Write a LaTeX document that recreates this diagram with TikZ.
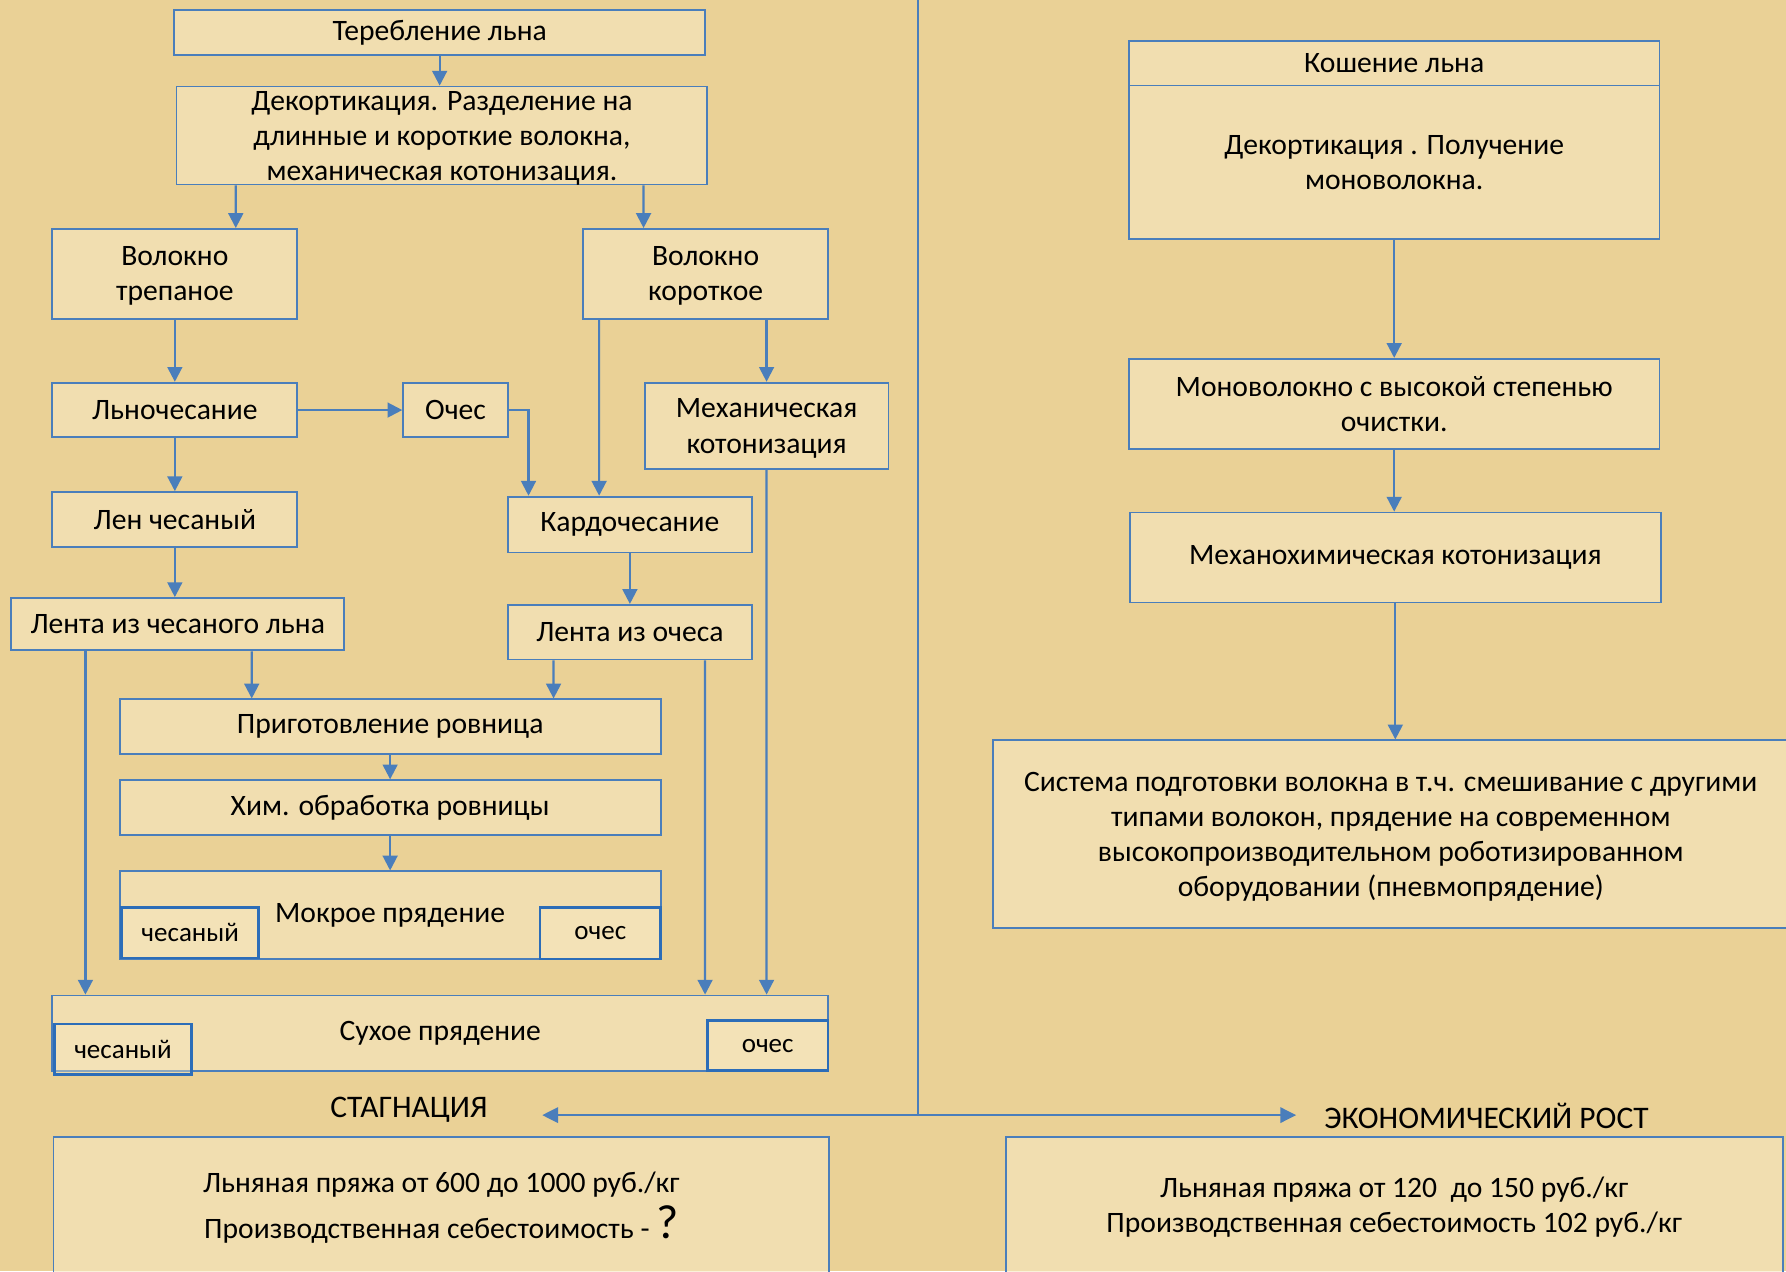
\documentclass[tikz,border=0pt]{standalone}
\usepackage{fontspec}
\setmainfont{Carlito}
\usetikzlibrary{arrows.meta}
\definecolor{paper}{HTML}{EAD196}
\definecolor{paperlight}{HTML}{F6E8C2}
\definecolor{flowblue}{HTML}{4A7EBB}
\definecolor{subblue}{HTML}{2C6DB8}
\pgfdeclarelayer{paper}
\pgfdeclarelayer{bg}
\pgfsetlayers{paper,bg,main}
\tikzset{
  stage/.style={draw=flowblue, line width=0.9pt, fill=paperlight, fill opacity=0.6,
    text opacity=1, align=center, inner sep=0pt,
    font=\fontsize{14.8}{17.5}\selectfont},
  lowtext/.style={text depth=-1.5pt},
  subbox/.style={draw=subblue, line width=1.4pt, fill=paperlight, fill opacity=0.4,
    text opacity=1, inner sep=0pt, minimum width=2.40cm, minimum height=0.88cm,
    font=\fontsize{13.5}{16}\selectfont},
  outcome/.style={font=\fontsize{15.7}{18}\selectfont},
  flow/.style={draw=flowblue, line width=1.1pt, -{Triangle[length=0.26cm,width=0.26cm]}},
  duo/.style={draw=flowblue, line width=1.1pt,
    {Triangle[length=0.28cm,width=0.27cm]}-{Triangle[length=0.28cm,width=0.27cm]}}
}

\begin{document}
\begin{tikzpicture}
        \useasboundingbox (0cm, 0cm) rectangle (31.36cm, -22.32cm);
        \begin{pgfonlayer}{paper}
                \fill[paper] (0cm, 0cm) rectangle (31.36cm, -22.32cm);
        \end{pgfonlayer}
        % left column
        \node (l0) [stage, minimum width=9.32cm, minimum height=0.78cm] at (7.720000cm, -0.570000cm) {Теребление льна};
        \node (l1) [stage, lowtext, minimum width=9.32cm, minimum height=1.72cm] at (7.760000cm, -2.380000cm) {Декортикация. Разделение на\\длинные и короткие волокна,\\механическая котонизация.};
        \node (l2) [stage, lowtext, minimum width=4.30cm, minimum height=1.58cm] at (3.070000cm, -4.810000cm) {Волокно\\трепаное};
        \node (l3) [stage, lowtext, minimum width=4.30cm, minimum height=1.58cm] at (12.390000cm, -4.810000cm) {Волокно\\короткое};
        \node (l4) [stage, minimum width=4.30cm, minimum height=0.96cm] at (3.070000cm, -7.200000cm) {Льночесание};
        \node (l5) [stage, minimum width=1.84cm, minimum height=0.96cm] at (8.000000cm, -7.200000cm) {Очес};
        \node (l6) [stage, lowtext, minimum width=4.28cm, minimum height=1.52cm] at (13.460000cm, -7.480000cm) {Механическая\\котонизация};
        \node (l7) [stage, minimum width=4.30cm, minimum height=0.96cm] at (3.070000cm, -9.120000cm) {Лен чесаный};
        \node (l8) [stage, minimum width=4.28cm, minimum height=0.98cm] at (11.060000cm, -9.210000cm) {Кардочесание};
        \node (l9) [stage, minimum width=5.84cm, minimum height=0.92cm] at (3.120000cm, -10.960000cm) {Лента из чесаного льна};
        \node (l10) [stage, minimum width=4.28cm, minimum height=0.96cm] at (11.060000cm, -11.100000cm) {Лента из очеса};
        \node (l11) [stage, minimum width=9.50cm, minimum height=0.96cm] at (6.850000cm, -12.760000cm) {Приготовление ровница};
        \node (l12) [stage, minimum width=9.50cm, minimum height=0.96cm] at (6.850000cm, -14.180000cm) {Хим. обработка ровницы};
        \node (l13) [stage, minimum width=9.50cm, minimum height=1.54cm] at (6.850000cm, -16.070000cm) {Мокрое прядение};
        \node (m0) [subbox] at (3.340000cm, -16.380000cm) {чесаный};
        \node (m1) [subbox, minimum width=2.12cm, minimum height=0.90cm] at (10.540000cm, -16.390000cm) {\raisebox{-3pt}{очес}};
        \node (l14) [stage, minimum width=13.62cm, minimum height=1.32cm] at (7.730000cm, -18.140000cm) {Сухое прядение};
        \node (s0) [subbox] at (2.160000cm, -18.420000cm) {чесаный};
        \node (s1) [subbox, minimum width=2.12cm] at (13.480000cm, -18.360000cm) {очес};
        % right column
        \node (r0) [stage, minimum width=9.32cm, minimum height=0.78cm] at (24.480000cm, -1.110000cm) {Кошение льна};
        \node (r1) [stage, lowtext, minimum width=9.32cm, minimum height=2.70cm] at (24.480000cm, -2.850000cm) {Декортикация . Получение\\моноволокна.};
        \node (r2) [stage, lowtext, minimum width=9.32cm, minimum height=1.58cm] at (24.480000cm, -7.090000cm) {Моноволокно с высокой степенью\\очистки.};
        \node (r3) [stage, minimum width=9.32cm, minimum height=1.58cm] at (24.500000cm, -9.790000cm) {Механохимическая котонизация};
        \node (r4) [stage, lowtext, minimum width=13.96cm, minimum height=3.30cm] at (24.420000cm, -14.650000cm) {Система подготовки волокна в т.ч. смешивание с другими\\типами волокон, прядение на современном\\высокопроизводительном роботизированном\\оборудовании (пневмопрядение)};
        % outcomes
        \node (n0) [outcome] at (7.180000cm, -19.480000cm) {СТАГНАЦИЯ};
        \node (n1) [outcome] at (26.100000cm, -19.600000cm) {ЭКОНОМИЧЕСКИЙ РОСТ};
        \node (d0) [stage, minimum width=13.62cm, minimum height=2.48cm] at (7.750000cm, -21.200000cm) {Льняная пряжа от 600 до 1000 руб./кг\\[3pt]Производственная себестоимость - {\fontsize{24}{20}\selectfont ?}};
        \node (d1) [stage, minimum width=13.64cm, minimum height=2.48cm] at (24.480000cm, -21.200000cm) {Льняная пряжа от 120\ \ до 150 руб./кг\\Производственная себестоимость 102 руб./кг};
        \coordinate (top) at (16.120000cm, 0.000000cm);
        \coordinate (fork) at (16.120000cm, -19.580000cm);
        \coordinate (sl) at (9.520000cm, -19.580000cm);
        \coordinate (sr) at (22.760000cm, -19.580000cm);
        \begin{pgfonlayer}{bg}
                \draw (l0.south) edge [flow] (l0.south |- l1.north);
                \draw ([xshift=-3.62cm]l1.south) edge [flow] ([xshift=1.07cm]l2.north);
                \draw ([xshift=3.54cm]l1.south) edge [flow] ([xshift=-1.09cm]l3.north);
                \draw (l2) edge [flow] (l4);
                \draw (l4) edge [flow] (l5);
                \draw [flow] (l5.east) -| ([xshift=-1.78cm]l8.north);
                \draw ([xshift=-1.87cm]l3.south) edge [flow] ([xshift=-0.54cm]l8.north);
                \draw ([xshift=1.07cm]l3.south) edge [flow] (l6.north);
                \draw (l4) edge [flow] (l7);
                \draw (l7.south) edge [flow] (l7.south |- l9.north);
                \draw (l8) edge [flow] (l10);
                \draw ([xshift=1.30cm]l9.south) edge [flow] ([xshift=-2.43cm]l11.north);
                \draw ([xshift=-1.34cm]l10.south) edge [flow] ([xshift=2.87cm]l11.north);
                \draw ([xshift=-1.62cm]l9.south) edge [flow] ([xshift=-6.23cm]l14.north);
                \draw ([xshift=1.32cm]l10.south) edge [flow] ([xshift=4.65cm]l14.north);
                \draw (l6.south) edge [flow] ([xshift=5.73cm]l14.north);
                \draw (l11) edge [flow] (l12);
                \draw (l12) edge [flow] (l13);
                \draw (r1) edge [flow] (r2);
                \draw (r2.south) edge [flow] (r2.south |- r3.north);
                \draw (r3.south) edge [flow] (r3.south |- r4.north);
                \draw [flowblue, line width=0.8pt] (top) -- (fork);
                \draw (sl) edge [duo] (sr);
        \end{pgfonlayer}
\end{tikzpicture}
\end{document}
